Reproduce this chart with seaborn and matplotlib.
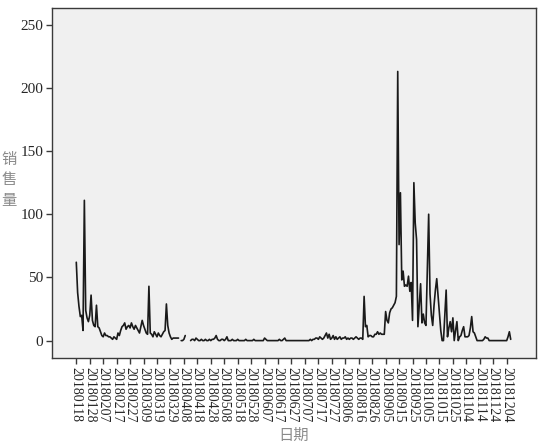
import numpy as np
import pandas as pd
import matplotlib
matplotlib.use("Agg")
import matplotlib.pyplot as plt
import seaborn as sns

# daily sales, 2018-01-18 .. 2018-12-07 (NaN = no record)
nan = np.nan
sales_jan_apr = [62, 38, 27, 19, 20, 8, 111, 24, 18, 15,
                 20, 36, 16, 12, 11, 28, 11, 10, 7, 4,
                 3, 6, 4, 4, 3, 3, 2, 1, 3, 2,
                 1, 6, 4, 8, 11, 12, 14, 9, 11, 12,
                 10, 14, 11, 9, 12, 10, 8, 6, 11, 16,
                 12, 9, 6, 5, 43, 6, 5, 3, 7, 5,
                 3, 6, 4, 3, 5, 7, 8, 29, 12, 6,
                 3, 1, 2, 2, 2, 2, 2, nan, 0, 0,
                 1, 4, nan, nan, nan]
sales_apr_aug = [0, 1, 1, 0, 2, 1, 0, 0, 1, 0,
                 0, 1, 0, 0, 1, 0, 1, 1, 2, 4,
                 1, 0, 0, 1, 1, 0, 1, 3, 0, 0,
                 0, 1, 0, 0, 0, 1, 0, 0, 0, 0,
                 0, 1, 0, 0, 0, 0, 0, 1, 0, 0,
                 0, 0, 0, 0, 0, 2, 1, 0, 0, 0,
                 0, 0, 0, 0, 0, 0, 1, 0, 0, 1,
                 2, 0, 0, 0, 0, 0, 0, 0, 0, 0,
                 0, 0, 0, 0, 0, 0, 0, 0, 0, 1,
                 0, 1, 1, 2, 2, 1, 3, 2, 1, 2,
                 4, 6, 2, 5, 1, 2, 4, 1, 3, 1,
                 2, 3, 1, 2, 2, 3, 1, 2, 1, 2,
                 2, 1, 2, 3, 2, 1, 2, 2, 1]
sales_aug_dec = [35, 11, 12, 3, 4, 4, 3, 3, 5, 5,
                 7, 5, 6, 5, 5, 5, 23, 16, 14, 22,
                 25, 26, 28, 30, 35, 213, 76, 117, 48, 55,
                 43, 44, 43, 51, 39, 46, 16, 125, 93, 80,
                 11, 28, 45, 14, 21, 14, 12, 56, 100, 37,
                 20, 12, 28, 40, 49, 35, 22, 8, 0, 0,
                 20, 40, 3, 10, 15, 7, 18, 0, 8, 15,
                 0, 3, 4, 8, 11, 3, 3, 3, 4, 10,
                 19, 7, 6, 3, 0, 0, 0, 0, 0, 1,
                 3, 2, 2, 0, 0, 0, 0, 0, 0, 0,
                 0, 0, 0, 0, 0, 0, 0, 3, 7, 1]
sales = sales_jan_apr + sales_apr_aug + sales_aug_dec
dates = pd.date_range("2018-01-18", periods=len(sales), freq="D")
tick_step = 10

df = pd.DataFrame({"day": np.arange(len(sales)), "sales": sales})
df["segment"] = df["sales"].isna().cumsum()
df = df.dropna(subset=["sales"])

sns.set_style("ticks")
plt.rcParams["font.family"] = ["Liberation Serif", "Noto Sans CJK SC"]

fig = plt.figure(figsize=(5.48, 4.42), dpi=100)
ax = fig.add_axes([0.0943, 0.1894, 0.8833, 0.7918])
ax.set_facecolor("#f0f0f0")

sns.lineplot(data=df, x="day", y="sales", units="segment", estimator=None,
             color="#1a1a1a", linewidth=1.2, ax=ax)

ticks = np.arange(0, len(sales), tick_step)
ax.set_xticks(ticks)
ax.set_xticklabels([dates[i].strftime("%Y%m%d") for i in ticks],
                   rotation=270, fontsize=10)
ax.set_yticks([0, 50, 100, 150, 200, 250])
ax.tick_params(axis="y", labelsize=11)
ax.set_xlim(-18.3, len(sales) - 1 + 18.6)
ax.set_ylim(-14, 263)

for s in ax.spines.values():
    s.set_visible(True)
    s.set_color("#3a3a3a")
    s.set_linewidth(1.0)
ax.tick_params(length=4, width=1, color="#3a3a3a", pad=2)

ax.set_xlabel("日期", family="Noto Sans CJK SC", fontsize=11, color="#8a8a8a",
              labelpad=3)
ax.set_ylabel("")
fig.text(0.016, 0.593, "销\n售\n量", family="Noto Sans CJK SC", fontsize=11,
         color="#8a8a8a", ha="center", va="center", linespacing=1.25)

fig.savefig("out.png", dpi=100, facecolor="white")
